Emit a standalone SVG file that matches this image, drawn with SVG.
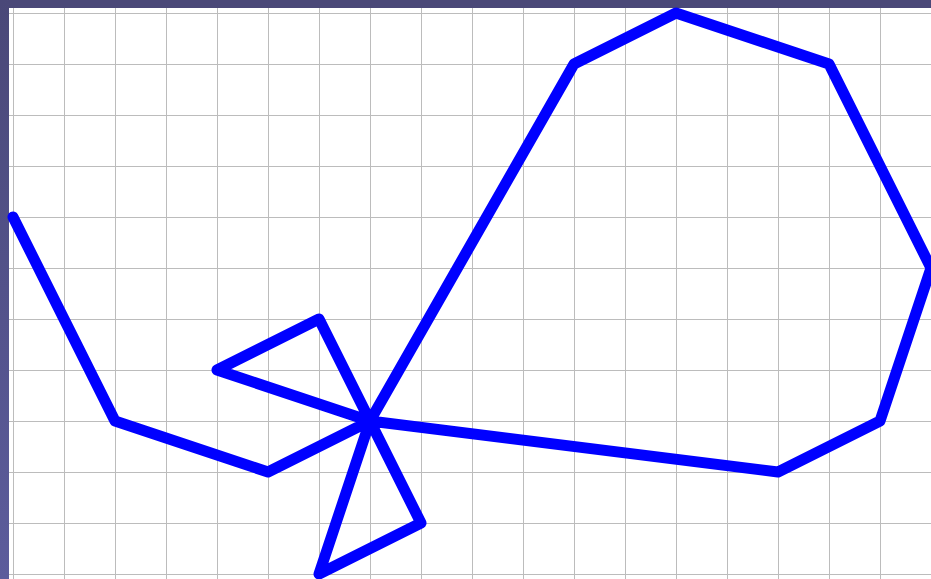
<svg xmlns="http://www.w3.org/2000/svg" width="931" height="579" viewBox="0 0 931 579">
<defs>
<pattern id="grid" x="13" y="13" width="51" height="51" patternUnits="userSpaceOnUse">
<path d="M0 0H51M0 0V51" fill="none" stroke="#bcbcbc" stroke-width="2"/>
</pattern>
<linearGradient id="lb" x1="0" y1="0" x2="0" y2="1">
<stop offset="0" stop-color="#4a4878"/>
<stop offset="1" stop-color="#5c5c9c"/>
</linearGradient>
<style>
.line{fill:none;stroke:#0000ff;stroke-width:11;stroke-linejoin:round;stroke-linecap:round}
</style>
</defs>
<rect width="931" height="579" fill="#ffffff"/>
<rect x="9" y="8" width="922" height="571" fill="url(#grid)"/>
<rect x="0" y="0" width="931" height="8" fill="#4a4878"/>
<rect x="0" y="0" width="9" height="579" fill="url(#lb)"/>
<polyline class="line" points="13,217 115,421 268,472 370,421 217,370 319,319 370,421 421,523 319,574 370,421 574,64 676,13 829,64 931,268 880,421 778,472 370,421"/>
</svg>
